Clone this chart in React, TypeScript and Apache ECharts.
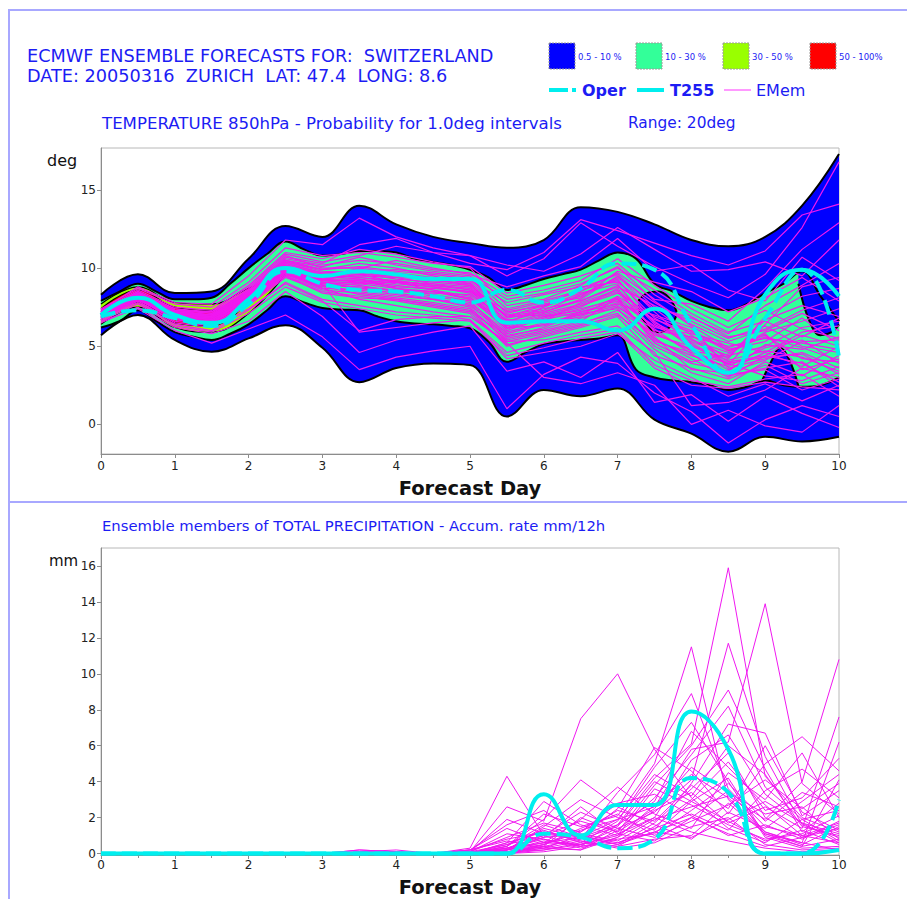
import React, { useEffect, useRef } from 'react';
import * as echarts from 'echarts';

// ---------- axes ----------
const DAYS = [0, 0.5, 1, 1.5, 2, 2.5, 3, 3.5, 4, 4.5, 5, 5.5, 6, 6.5, 7, 7.5, 8, 8.5, 9, 9.5, 10];
const QUARTER_DAYS = [0, 0.25, 0.5, 0.75, 1, 1.25, 1.5, 1.75, 2, 2.25, 2.5, 2.75, 3, 3.25, 3.5, 3.75, 4, 4.25, 4.5, 4.75, 5, 5.25, 5.5, 5.75, 6, 6.25, 6.5, 6.75, 7, 7.25, 7.5, 7.75, 8, 8.25, 8.5, 8.75, 9, 9.25, 9.5, 9.75, 10];
const TEMP_TICKS = [0, 5, 10, 15];
const PRECIP_TICKS = [0, 2, 4, 6, 8, 10, 12, 14, 16];

// ---------- temperature probability bands ----------
const ENV_HIGH = [8.3, 9.6, 8.4, 8.5, 10.6, 12.7, 12.0, 14.0, 12.8, 12.0, 11.6, 11.3, 11.8, 13.9, 13.6, 12.8, 11.8, 11.4, 12.0, 14.0, 17.3];
const ENV_LOW = [5.7, 7.0, 5.4, 4.65, 5.5, 6.35, 4.9, 2.7, 3.6, 3.9, 3.8, 0.5, 2.2, 1.8, 2.3, 0.3, -0.6, -1.75, -0.8, -1.1, -0.8];

const GREEN_HIGH = [7.9, 8.5, 9.0, 8.5, 8.0, 8.0, 8.1, 9.0, 10.0, 10.9, 11.7, 11.2, 10.8, 10.9, 11.1, 11.1, 11.0, 10.6, 10.4, 10.2, 9.9, 9.4, 8.6, 8.9, 9.3, 9.6, 9.9, 10.5, 11.0, 10.6, 9.0, 8.5, 7.9, 7.5, 7.3, 7.7, 8.4, 9.0, 9.8, 8.2, 6.6];
const GREEN_LOW = [6.2, 6.6, 7.3, 6.6, 5.9, 5.6, 5.4, 5.8, 6.4, 7.3, 8.2, 7.8, 7.45, 7.35, 7.3, 6.9, 6.6, 6.45, 6.4, 6.3, 6.15, 5.3, 4.0, 4.6, 5.15, 5.3, 5.4, 5.5, 5.7, 3.5, 3.0, 2.8, 2.7, 2.5, 2.2, 2.4, 2.8, 2.5, 2.4, 2.5, 3.0];

const LIME_DAYS = [0, 0.5, 1, 1.5, 2, 2.5];
const LIME_HIGH = [7.7, 8.8, 7.8, 7.7, 8.7, 9.6];
const LIME_LOW = [6.4, 7.5, 6.2, 5.9, 7.1, 9.6];

const RED_DAYS = [0, 0.5, 1, 1.5, 2];
const RED_HIGH = [7.4, 8.6, 7.5, 7.3, 7.9];
const RED_LOW = [6.7, 7.8, 6.5, 6.3, 7.9];

const HOLE_A_DAYS = [7.28, 7.4, 7.55, 7.7, 7.8];
const HOLE_A_LOW = [7.4, 6.3, 5.9, 6.2, 7.0];
const HOLE_A_HIGH = [7.9, 8.4, 8.5, 8.1, 7.2];

const HOLE_B_DAYS = [9.45, 9.6, 9.75, 9.9, 10];
const HOLE_B_LOW = [9.0, 6.6, 5.7, 5.9, 6.4];
const HOLE_B_HIGH = [9.9, 9.9, 8.8, 7.3, 6.7];

const HOLE_C_DAYS = [8.95, 9.08, 9.2, 9.32, 9.45];
const HOLE_C_LOW = [2.0, 1.8, 1.8, 1.8, 2.0];
const HOLE_C_HIGH = [2.7, 4.0, 4.9, 4.2, 2.45];

const GREEN_DOT = [[9.22, 2.85]];

// ---------- temperature lines ----------
const TEMP_OPER = [6.9, 7.3, 6.8, 6.3, 7.7, 9.8, 9.0, 8.6, 8.5, 8.2, 7.8, 8.6, 7.8, 8.7, 10.3, 9.9, 6.4, 3.3, 6.8, 9.9, 4.3];
const TEMP_T255 = [7.0, 8.1, 7.0, 6.5, 8.0, 10.0, 9.5, 9.8, 9.6, 9.3, 9.3, 6.5, 6.6, 6.6, 6.0, 7.4, 4.9, 3.3, 8.3, 9.9, 8.2];

const TEMP_MEMBERS = [
  [7.1, 8.3, 7.1, 6.9, 8.3, 10.2, 9.5, 9.9, 9.6, 9.2, 9.0, 6.8, 7.2, 8.0, 9.5, 7.2, 5.1, 3.8, 6.4, 8.8, 9.4],
  [6.9, 8.1, 6.8, 6.6, 8.0, 9.8, 9.0, 8.7, 8.4, 8.1, 7.6, 5.8, 6.4, 6.9, 7.8, 5.5, 4.2, 3.0, 4.4, 3.9, 2.7],
  [7.2, 8.5, 7.4, 7.1, 8.6, 10.6, 10.2, 10.5, 10.3, 9.9, 9.7, 8.2, 8.6, 9.2, 10.6, 8.9, 7.4, 6.2, 7.3, 6.1, 5.5],
  [6.8, 7.9, 6.6, 6.3, 7.6, 9.4, 8.5, 8.2, 7.9, 7.5, 7.1, 5.1, 5.6, 6.2, 6.9, 4.4, 3.6, 2.9, 3.8, 2.6, 3.3],
  [7.0, 8.2, 7.0, 6.7, 8.1, 10.0, 9.3, 9.3, 9.0, 8.8, 8.4, 6.1, 6.9, 7.3, 8.1, 6.2, 5.8, 5.2, 4.6, 5.9, 6.3],
  [7.3, 8.6, 7.5, 7.3, 8.9, 11.0, 10.6, 11.2, 10.9, 10.4, 10.0, 7.6, 8.0, 8.9, 10.1, 7.9, 6.3, 4.9, 5.7, 4.2, 4.0],
  [6.7, 7.8, 6.4, 6.0, 7.3, 9.1, 8.0, 7.6, 7.2, 7.0, 6.7, 4.6, 5.2, 5.7, 6.1, 3.8, 2.8, 2.4, 2.9, 3.2, 1.8],
  [7.1, 8.3, 7.2, 7.0, 8.4, 10.3, 9.7, 9.6, 9.1, 8.6, 8.0, 6.5, 7.5, 8.4, 9.0, 5.9, 4.7, 4.3, 6.7, 7.6, 6.9],
  [6.9, 8.0, 6.9, 6.5, 7.9, 9.7, 8.8, 9.0, 8.7, 8.3, 7.9, 5.6, 6.2, 7.1, 7.4, 5.0, 3.9, 3.4, 5.1, 4.8, 5.6],
  [7.2, 8.4, 7.3, 7.2, 8.5, 10.5, 9.9, 10.1, 9.8, 9.6, 9.3, 7.1, 7.7, 8.1, 9.8, 9.1, 8.5, 7.2, 8.1, 9.4, 7.9],
  [7.0, 8.1, 7.0, 6.8, 8.2, 9.9, 9.1, 8.9, 8.5, 8.4, 8.3, 6.7, 6.6, 7.8, 8.6, 6.6, 4.9, 3.2, 3.5, 2.2, 2.9],
  [6.8, 8.0, 6.7, 6.4, 7.7, 9.5, 8.6, 8.4, 8.1, 7.8, 7.4, 5.4, 5.9, 6.5, 7.1, 4.8, 3.3, 2.6, 4.0, 3.1, 4.4],
  [7.1, 8.4, 7.2, 6.9, 8.3, 10.1, 9.4, 9.5, 9.4, 9.0, 8.6, 6.3, 7.0, 7.6, 8.4, 6.9, 6.0, 4.8, 5.3, 6.8, 5.1],
  [7.0, 8.2, 7.1, 6.8, 8.2, 10.0, 9.2, 9.2, 8.9, 8.6, 8.2, 6.0, 6.8, 7.4, 8.0, 5.4, 4.4, 3.7, 4.9, 5.4, 3.9],
  [7.4, 8.7, 7.7, 7.5, 9.1, 11.3, 10.8, 11.0, 10.7, 10.3, 10.1, 8.4, 8.9, 9.5, 10.3, 8.3, 6.9, 5.6, 6.0, 7.1, 6.0],
  [6.6, 7.7, 6.3, 5.9, 7.1, 8.8, 7.8, 7.4, 7.0, 6.8, 6.6, 4.4, 4.9, 5.5, 5.9, 3.6, 2.5, 2.3, 2.7, 2.4, 2.2],
  [7.1, 8.3, 7.0, 6.9, 8.4, 10.2, 9.6, 9.4, 9.2, 8.9, 8.7, 7.0, 7.4, 7.9, 8.8, 7.6, 6.6, 5.5, 6.3, 5.0, 4.6],
  [6.9, 8.1, 6.9, 6.7, 8.0, 9.8, 8.9, 8.8, 8.6, 8.2, 7.8, 5.9, 6.5, 7.0, 7.6, 5.7, 5.0, 4.1, 4.7, 4.3, 3.4],
  [7.2, 8.4, 7.3, 7.0, 8.5, 10.4, 9.8, 9.7, 9.3, 9.1, 8.9, 6.9, 7.3, 8.3, 9.3, 6.5, 5.4, 4.6, 5.9, 6.6, 7.4],
  [7.0, 8.2, 7.0, 6.8, 8.1, 10.0, 9.3, 9.1, 8.8, 8.7, 8.5, 6.4, 7.1, 7.7, 8.5, 6.0, 5.6, 5.0, 5.5, 5.2, 4.8],
  [7.3, 8.8, 7.8, 7.7, 9.5, 11.8, 11.5, 13.2, 12.0, 11.3, 10.8, 9.5, 10.6, 12.9, 11.4, 10.1, 9.0, 8.1, 9.6, 12.6, 16.8],
  [6.6, 7.4, 6.0, 5.2, 6.1, 7.0, 5.6, 3.5, 4.3, 4.7, 5.0, 1.0, 3.2, 4.3, 3.9, 2.0, 0.8, -1.2, 0.3, 1.2, 0.5],
  [6.5, 7.5, 6.2, 5.8, 6.6, 8.5, 6.9, 4.6, 5.4, 5.9, 6.3, 3.4, 4.0, 3.0, 4.6, 1.4, 1.9, 0.2, 1.8, 0.7, -0.2],
  [7.2, 8.5, 7.4, 7.2, 8.8, 10.9, 10.4, 10.8, 11.4, 11.0, 10.3, 9.9, 11.0, 13.1, 12.4, 11.6, 10.8, 10.2, 11.1, 13.4, 14.1],
  [6.8, 7.9, 6.5, 6.2, 7.4, 9.0, 7.9, 6.0, 6.7, 6.9, 6.9, 5.2, 3.0, 2.6, 3.3, 2.5, 0.0, 0.9, -0.1, -0.5, 1.2],
  [7.1, 8.3, 7.1, 7.0, 8.6, 10.7, 10.3, 11.5, 11.9, 11.0, 10.8, 10.2, 9.8, 10.9, 12.6, 11.2, 9.8, 9.9, 10.4, 9.5, 11.8],
  [6.9, 8.0, 6.8, 6.4, 7.7, 9.6, 9.0, 5.9, 6.2, 6.5, 6.7, 4.2, 4.6, 5.0, 5.8, 4.1, 3.0, 1.8, 2.6, 1.5, 2.5],
  [7.0, 8.1, 7.1, 6.9, 8.2, 10.1, 9.4, 10.0, 10.5, 10.0, 9.6, 8.8, 9.5, 10.1, 11.9, 9.8, 10.2, 8.6, 7.9, 10.7, 9.2],
  [7.0, 8.2, 6.9, 6.6, 7.8, 9.6, 8.7, 8.0, 7.6, 7.2, 6.9, 5.3, 5.4, 5.9, 6.3, 4.6, 1.2, 1.4, 2.2, 3.6, 3.0],
  [7.1, 8.2, 7.2, 7.0, 8.3, 10.2, 9.6, 9.4, 9.1, 8.8, 8.5, 7.3, 7.8, 8.5, 9.7, 8.0, 7.7, 6.6, 8.7, 11.2, 12.9],
  [7.0, 8.3, 7.0, 6.7, 8.1, 9.9, 9.3, 9.6, 9.5, 9.3, 8.9, 6.6, 6.7, 7.2, 7.7, 7.0, 6.2, 3.6, 4.2, 4.6, 3.6],
  [6.9, 8.1, 6.9, 6.6, 8.0, 9.7, 8.7, 8.6, 8.3, 8.0, 7.7, 5.5, 6.0, 6.6, 8.1, 5.2, 4.0, 4.5, 5.8, 3.5, 4.2],
  [7.2, 8.4, 7.3, 7.1, 8.7, 10.8, 10.0, 10.0, 9.7, 9.4, 9.2, 7.8, 8.3, 8.8, 9.1, 7.4, 5.7, 4.2, 6.9, 8.2, 8.7],
  [7.1, 8.2, 7.1, 6.9, 8.3, 10.1, 9.2, 9.0, 9.1, 9.0, 8.8, 6.2, 6.9, 7.5, 8.7, 5.6, 3.5, 3.3, 4.1, 5.3, 5.4],
  [6.9, 8.1, 6.8, 6.5, 7.8, 9.5, 8.4, 8.1, 8.0, 7.7, 7.3, 5.0, 5.7, 6.3, 7.0, 5.3, 4.6, 3.9, 3.1, 2.8, 3.7],
  [7.0, 8.2, 7.0, 6.8, 8.2, 10.0, 9.5, 9.3, 8.7, 8.5, 8.1, 6.6, 7.2, 7.9, 8.9, 6.4, 5.3, 4.4, 5.0, 6.2, 6.6],
  [7.0, 8.1, 6.9, 6.7, 8.1, 9.9, 9.2, 9.8, 9.9, 9.7, 9.4, 7.4, 7.9, 8.6, 9.2, 6.8, 5.5, 4.0, 4.4, 5.7, 5.0],
  [7.1, 8.4, 7.2, 7.0, 8.4, 10.4, 9.9, 10.3, 10.0, 9.5, 9.0, 6.9, 7.6, 8.2, 9.4, 7.8, 6.4, 5.3, 6.1, 7.3, 8.1],
  [6.9, 8.0, 6.8, 6.5, 7.8, 9.6, 8.9, 8.3, 8.0, 7.6, 7.2, 5.7, 6.1, 6.8, 7.5, 6.1, 4.5, 3.1, 3.6, 4.0, 2.4],
  [7.2, 8.3, 7.2, 7.0, 8.5, 10.5, 10.1, 10.7, 10.2, 9.8, 9.5, 8.0, 8.4, 9.0, 10.0, 8.6, 7.1, 5.9, 6.6, 5.6, 6.8],
  [7.0, 8.2, 7.0, 6.8, 8.2, 9.9, 9.0, 9.1, 9.2, 8.9, 8.6, 6.9, 7.0, 7.0, 8.2, 6.7, 5.9, 4.7, 5.6, 4.9, 4.1],
  [6.8, 8.0, 6.8, 6.5, 7.9, 9.7, 8.9, 8.5, 8.2, 8.0, 7.5, 5.3, 5.8, 6.4, 7.3, 5.8, 4.8, 3.5, 4.6, 3.7, 5.0],
  [7.1, 8.3, 7.1, 6.9, 8.3, 10.3, 9.7, 9.8, 9.4, 9.3, 9.1, 7.2, 7.6, 8.7, 9.6, 7.5, 6.8, 5.8, 7.6, 8.9, 10.3],
  [7.0, 8.1, 7.0, 6.7, 8.0, 9.8, 9.1, 8.7, 8.6, 8.5, 8.0, 6.2, 6.3, 7.2, 7.9, 6.3, 5.2, 3.9, 4.3, 4.5, 3.2],
];

// ---------- precipitation ----------
const PRECIP_OPER = [0, 0, 0, 0, 0, 0, 0, 0, 0, 0, 0, 0, 1.1, 0.9, 0.3, 0.8, 4.2, 3.4, 0, 0, 3.0];
const PRECIP_T255 = [0, 0, 0, 0, 0, 0, 0, 0, 0, 0, 0, 0, 3.3, 1.0, 2.7, 2.7, 7.9, 5.8, 0, 0, 0.2];

const PRECIP_MEMBERS = [
  [0, 0, 0, 0, 0, 0, 0, 0, 0, 0, 0.3, 4.3, 1.0, 0.4, 0.6, 1.2, 2.0, 3.5, 1.2, 0.5, 1.5],
  [0, 0, 0, 0, 0, 0, 0, 0.2, 0.1, 0, 0.1, 2.6, 1.8, 7.5, 10.0, 5.8, 3.1, 1.4, 0.6, 1.9, 2.4],
  [0, 0, 0, 0, 0, 0, 0, 0, 0, 0, 0, 0.4, 2.2, 1.5, 2.1, 5.0, 11.5, 3.0, 1.1, 0.4, 0.8],
  [0, 0, 0, 0, 0, 0, 0, 0, 0, 0, 0.2, 0.8, 1.2, 0.9, 1.6, 4.2, 6.1, 15.9, 4.3, 2.0, 1.2],
  [0, 0, 0, 0, 0, 0, 0, 0, 0, 0, 0, 0.1, 0.5, 1.3, 1.9, 2.6, 5.8, 6.2, 13.9, 3.9, 2.2],
  [0, 0, 0, 0, 0, 0, 0, 0, 0, 0, 0, 0.2, 0.7, 0.5, 1.4, 2.3, 4.1, 11.7, 5.4, 1.6, 0.9],
  [0, 0, 0, 0, 0, 0, 0, 0, 0, 0, 0.1, 1.9, 1.1, 0.8, 3.4, 5.5, 8.9, 3.6, 1.5, 1.0, 0.6],
  [0, 0, 0, 0, 0, 0, 0, 0, 0, 0, 0, 0, 0.4, 2.0, 1.2, 3.8, 6.0, 9.1, 4.7, 1.2, 2.8],
  [0, 0, 0, 0, 0, 0, 0, 0, 0, 0, 0, 0.3, 0.9, 1.1, 0.7, 1.9, 2.6, 3.2, 1.9, 4.0, 10.8],
  [0, 0, 0, 0, 0, 0, 0, 0.1, 0.2, 0, 0, 0.6, 2.9, 1.6, 1.0, 2.4, 3.4, 1.7, 2.6, 1.4, 7.6],
  [0, 0, 0, 0, 0, 0, 0, 0, 0, 0, 0.2, 1.4, 0.6, 0.9, 2.5, 5.9, 4.6, 2.2, 5.0, 6.5, 4.6],
  [0, 0, 0, 0, 0, 0, 0, 0, 0, 0, 0, 0.2, 1.5, 3.0, 2.0, 1.3, 3.9, 7.2, 6.7, 2.1, 3.5],
  [0, 0, 0, 0, 0, 0, 0, 0, 0, 0, 0, 0.5, 1.3, 0.6, 1.8, 4.8, 7.3, 4.0, 0.9, 0.3, 0.4],
  [0, 0, 0, 0, 0, 0, 0, 0, 0, 0, 0, 0.1, 0.3, 0.7, 0.4, 1.5, 3.0, 5.1, 2.4, 3.1, 5.3],
  [0, 0, 0, 0, 0, 0, 0, 0.2, 0.1, 0, 0.1, 0.9, 1.7, 1.2, 2.8, 3.3, 2.1, 1.0, 1.6, 0.8, 1.8],
  [0, 0, 0, 0, 0, 0, 0, 0, 0, 0, 0, 0, 0.2, 0.5, 1.1, 2.0, 5.2, 6.6, 3.3, 1.7, 1.1],
  [0, 0, 0, 0, 0, 0, 0, 0, 0, 0, 0, 0.3, 1.0, 2.3, 1.4, 0.9, 1.8, 2.7, 4.1, 2.5, 3.9],
  [0, 0, 0, 0, 0, 0, 0, 0, 0, 0, 0.1, 1.1, 0.8, 0.3, 0.9, 2.7, 4.4, 3.1, 1.2, 0.6, 0.2],
  [0, 0, 0, 0, 0, 0, 0, 0, 0, 0, 0, 0.2, 0.6, 1.9, 3.7, 2.2, 1.4, 4.5, 3.0, 5.6, 2.0],
  [0, 0, 0, 0, 0, 0, 0, 0, 0, 0, 0, 0, 0.1, 0.4, 0.8, 1.1, 2.9, 1.8, 0.7, 1.3, 0.5],
  [0, 0, 0, 0, 0, 0, 0, 0, 0, 0, 0.2, 1.6, 2.4, 1.0, 0.5, 1.7, 3.6, 5.6, 2.0, 0.9, 1.4],
  [0, 0, 0, 0, 0, 0, 0, 0.1, 0.1, 0, 0, 0.4, 1.9, 4.1, 2.6, 1.6, 0.8, 2.3, 1.4, 2.9, 4.4],
  [0, 0, 0, 0, 0, 0, 0, 0, 0, 0, 0, 0.1, 0.4, 0.2, 1.3, 3.1, 5.5, 8.2, 3.7, 1.9, 0.7],
  [0, 0, 0, 0, 0, 0, 0, 0, 0, 0, 0, 0.6, 1.2, 0.7, 0.3, 0.6, 1.5, 2.0, 0.5, 0.2, 0.3],
  [0, 0, 0, 0, 0, 0, 0, 0, 0, 0, 0.1, 0.2, 0.5, 1.4, 2.2, 1.0, 2.4, 3.9, 1.8, 3.4, 2.6],
  [0, 0, 0, 0, 0, 0, 0, 0, 0, 0, 0, 0.3, 0.8, 0.4, 1.6, 2.9, 6.8, 4.8, 2.7, 1.0, 1.7],
  [0, 0, 0, 0, 0, 0, 0, 0, 0, 0, 0, 0, 0.3, 1.0, 0.6, 1.4, 2.2, 1.3, 3.5, 4.7, 3.1],
  [0, 0, 0, 0, 0, 0, 0, 0, 0, 0, 0, 0.2, 1.4, 0.9, 1.9, 4.4, 3.2, 6.0, 4.4, 1.5, 1.0],
  [0, 0, 0, 0, 0, 0, 0, 0, 0, 0, 0, 0.1, 0.2, 0.6, 0.4, 0.8, 1.0, 2.8, 1.1, 0.6, 6.2],
  [0, 0, 0, 0, 0, 0, 0, 0, 0, 0, 0.1, 0.5, 1.0, 1.8, 1.2, 2.5, 4.8, 3.4, 2.2, 2.6, 0.8],
  [0, 0, 0, 0, 0, 0, 0, 0, 0, 0, 0, 0.3, 0.6, 0.5, 1.0, 3.6, 2.7, 1.6, 0.8, 1.1, 2.1],
  [0, 0, 0, 0, 0, 0, 0, 0, 0, 0, 0, 0, 0.5, 1.2, 2.4, 1.8, 3.8, 2.5, 6.0, 2.3, 1.3],
  [0, 0, 0, 0, 0, 0, 0, 0, 0, 0, 0.2, 0.7, 0.3, 0.2, 0.9, 2.0, 1.2, 0.7, 0.3, 0.1, 0.2],
  [0, 0, 0, 0, 0, 0, 0, 0, 0, 0, 0, 0.1, 0.4, 0.8, 1.5, 4.0, 2.9, 4.2, 1.0, 0.4, 4.1],
  [0, 0, 0, 0, 0, 0, 0, 0, 0, 0, 0, 0.4, 1.6, 0.9, 0.5, 1.2, 0.9, 1.9, 2.9, 1.7, 0.6],
  [0, 0, 0, 0, 0, 0, 0, 0, 0, 0, 0, 0.2, 0.9, 2.6, 1.1, 0.7, 2.0, 1.1, 0.4, 0.9, 1.6],
];

// ---------- legend / titles ----------
const LEGEND_BANDS = ['0.5 - 10 %', '10 - 30 %', '30 - 50 %', '50 - 100%'];
const LEGEND_LINES = ['Oper', 'T255', 'EMem'];

// ---------- styles ----------
const C_BLUE = '#0000ff';
const C_GREEN = '#33ff99';
const C_LIME = '#99ff00';
const C_RED = '#ff0000';
const C_CYAN = '#00eeee';
const C_PINK = '#f018f0';
const C_TEXT = '#1c1cf4';
const C_FRAME = '#a8a8ff';
const C_AXIS = '#8c8c8c';
const FONT = 'DejaVu Sans';

const zip = (xs: number[], ys: number[]) => xs.map((x, i) => [x, ys[i]]);
// value first, day second: the stacked dimension must be the first numeric one
const zipValueFirst = (xs: number[], ys: number[]) => xs.map((x, i) => [ys[i], x]);

function band(id: string, xs: number[], low: number[], high: number[], fill: string, lowLine: number, highLine: number, lw = 2) {
  const common = {
    type: 'line', xAxisIndex: 0, yAxisIndex: 0, stack: id, stackStrategy: 'all',
    encode: { x: 1, y: 0 },
    smooth: 0.4, symbol: 'none', silent: true, emphasis: { disabled: true },
  };
  const diff = xs.map((_, i) => high[i] - low[i]);
  return [
    { ...common, name: id + '_low', data: zipValueFirst(xs, low), lineStyle: { color: '#000', width: lw, opacity: lowLine } },
    {
      ...common, name: id + '_high', data: zipValueFirst(xs, diff),
      lineStyle: { color: '#000', width: lw, opacity: highLine },
      areaStyle: { color: fill, opacity: 1 },
    },
  ];
}

function xAxis(gridIndex: number, minor: boolean) {
  return {
    type: 'value', gridIndex, min: 0, max: 10, interval: 1,
    axisLine: { show: true, onZero: false, lineStyle: { color: C_AXIS, width: 1 } },
    axisTick: { show: true, length: 4, lineStyle: { color: C_AXIS } },
    minorTick: { show: minor, splitNumber: 2, length: 3, lineStyle: { color: C_AXIS } },
    axisLabel: { color: '#222', fontSize: 12, fontFamily: FONT, margin: gridIndex === 0 ? 6 : 4 },
    splitLine: { show: false },
    minorSplitLine: { show: false },
  };
}

function yAxis(gridIndex: number, min: number, max: number, ticks: number[]) {
  return {
    type: 'value', gridIndex, min, max,
    axisLine: { show: true, onZero: false, lineStyle: { color: C_AXIS, width: 1 } },
    axisTick: { show: true, length: 4, customValues: ticks, lineStyle: { color: C_AXIS } },
    axisLabel: { show: true, customValues: ticks, color: '#222', fontSize: 12, fontFamily: FONT, margin: 5 },
    splitLine: { show: false },
  };
}

function text(x: number, y: number, t: string, size: number, opts: any = {}) {
  return {
    type: 'text', x, y, silent: true,
    style: {
      text: t, fill: opts.fill || C_TEXT, fontSize: size, fontFamily: FONT,
      fontWeight: opts.bold ? 'bold' : 'normal', align: opts.align || 'left', verticalAlign: 'middle',
    },
  };
}

function buildOption() {
  const series: any[] = [];
  series.push(...band('env', DAYS, ENV_LOW, ENV_HIGH, C_BLUE, 1, 1));
  series.push(...band('green', QUARTER_DAYS, GREEN_LOW, GREEN_HIGH, C_GREEN, 1, 1));
  series.push(...band('lime', LIME_DAYS, LIME_LOW, LIME_HIGH, C_LIME, 1, 1, 1.2));
  series.push(...band('red', RED_DAYS, RED_LOW, RED_HIGH, C_RED, 1, 1, 1.2));
  series.push(...band('holeA', HOLE_A_DAYS, HOLE_A_LOW, HOLE_A_HIGH, C_BLUE, 1, 1));
  series.push(...band('holeB', HOLE_B_DAYS, HOLE_B_LOW, HOLE_B_HIGH, C_BLUE, 1, 0));
  series.push(...band('holeC', HOLE_C_DAYS, HOLE_C_LOW, HOLE_C_HIGH, C_BLUE, 0, 1));
  series.push({
    type: 'scatter', xAxisIndex: 0, yAxisIndex: 0, data: GREEN_DOT, symbol: 'circle', symbolSize: 15,
    itemStyle: { color: C_GREEN, borderColor: '#000', borderWidth: 2 }, silent: true,
  });
  TEMP_MEMBERS.forEach((m, k) => {
    series.push({
      type: 'line', name: 'tm' + k, xAxisIndex: 0, yAxisIndex: 0, data: zip(DAYS, m),
      symbol: 'none', silent: true, lineStyle: { color: C_PINK, width: 1.2 },
    });
  });
  series.push({
    type: 'line', name: 'Oper', xAxisIndex: 0, yAxisIndex: 0, data: zip(DAYS, TEMP_OPER), smooth: 0.5,
    symbol: 'none', silent: true, lineStyle: { color: C_CYAN, width: 4, type: [15, 6] },
  });
  series.push({
    type: 'line', name: 'T255', xAxisIndex: 0, yAxisIndex: 0, data: zip(DAYS, TEMP_T255), smooth: 0.5,
    symbol: 'none', silent: true, lineStyle: { color: C_CYAN, width: 4 },
  });
  PRECIP_MEMBERS.forEach((m, k) => {
    series.push({
      type: 'line', name: 'pm' + k, xAxisIndex: 1, yAxisIndex: 1, data: zip(DAYS, m),
      symbol: 'none', silent: true, lineStyle: { color: C_PINK, width: 1 },
    });
  });
  series.push({
    type: 'line', name: 'OperP', xAxisIndex: 1, yAxisIndex: 1, data: zip(DAYS, PRECIP_OPER), smooth: 0.5,
    symbol: 'none', silent: true, lineStyle: { color: C_CYAN, width: 4, type: [15, 6] },
  });
  series.push({
    type: 'line', name: 'T255P', xAxisIndex: 1, yAxisIndex: 1, data: zip(DAYS, PRECIP_T255), smooth: 0.5,
    symbol: 'none', silent: true, lineStyle: { color: C_CYAN, width: 4 },
  });

  const bandColors = [C_BLUE, C_GREEN, C_LIME, C_RED];
  const graphic: any[] = [
    { type: 'line', silent: true, shape: { x1: 8, y1: 10, x2: 907, y2: 10 }, style: { stroke: C_FRAME, lineWidth: 2 } },
    { type: 'line', silent: true, shape: { x1: 9, y1: 9, x2: 9, y2: 899 }, style: { stroke: C_FRAME, lineWidth: 2 } },
    { type: 'line', silent: true, shape: { x1: 9, y1: 502, x2: 907, y2: 502 }, style: { stroke: C_FRAME, lineWidth: 2 } },
    text(27, 56, 'ECMWF ENSEMBLE FORECASTS FOR: \u00a0SWITZERLAND', 17.7),
    text(27, 76, 'DATE: 20050316 \u00a0ZURICH \u00a0LAT: 47.4 \u00a0LONG: 8.6', 17.7),
    text(102, 123, 'TEMPERATURE 850hPa - Probability for 1.0deg intervals', 16.6),
    text(628, 123, 'Range: 20deg', 15.4),
    text(102, 525, 'Ensemble members of TOTAL PRECIPITATION - Accum. rate mm/12h', 14.8),
    text(47, 160, 'deg', 16, { fill: '#111' }),
    text(49, 561, 'mm', 15, { fill: '#111' }),
    text(470, 488, 'Forecast Day', 19.5, { fill: '#111', bold: true, align: 'center' }),
    text(470, 887, 'Forecast Day', 19.5, { fill: '#111', bold: true, align: 'center' }),
  ];
  LEGEND_BANDS.forEach((lab, i) => {
    const x0 = 549 + i * 87;
    graphic.push({
      type: 'rect', silent: true, shape: { x: x0, y: 43, width: 26, height: 26 },
      style: { fill: bandColors[i], stroke: '#9a9a9a', lineWidth: 1, lineDash: [2, 1] },
    });
    graphic.push(text(x0 + 29, 57, lab, 8.5));
  });
  const lx = [549, 637, 724];
  LEGEND_LINES.forEach((lab, i) => {
    const x0 = lx[i];
    graphic.push({
      type: 'line', silent: true, shape: { x1: x0, y1: 90, x2: x0 + 27, y2: 90 },
      style: {
        stroke: i === 2 ? '#ff99ff' : C_CYAN, lineWidth: i === 2 ? 2 : 4,
        lineDash: i === 0 ? [19, 4] : null,
      },
    });
    graphic.push(text(x0 + (i === 2 ? 32 : 33), 90, lab, 16, { bold: i < 2 }));
  });

  return {
    animation: false,
    backgroundColor: '#ffffff',
    grid: [
      { left: 101, top: 148, width: 738, height: 306, show: true, borderColor: '#b8b8b8', borderWidth: 1, outerBoundsMode: 'none' },
      { left: 101, top: 548, width: 738, height: 307, show: true, borderColor: '#b8b8b8', borderWidth: 1, outerBoundsMode: 'none' },
    ],
    xAxis: [xAxis(0, false), xAxis(1, true)],
    yAxis: [yAxis(0, -1.9, 17.69, TEMP_TICKS), yAxis(1, -0.08, 17, PRECIP_TICKS)],
    series,
    graphic,
  };
}

export default function App() {
  const ref = useRef<HTMLDivElement>(null);
  useEffect(() => {
    if (!ref.current) return;
    const chart = echarts.init(ref.current, null, { renderer: 'svg' });
    chart.setOption(buildOption() as any);
    return () => chart.dispose();
  }, []);
  return (
    <div
      ref={ref}
      style={{ position: 'fixed', left: 0, top: 0, width: 907, height: 899, background: '#fff' }}
    />
  );
}
